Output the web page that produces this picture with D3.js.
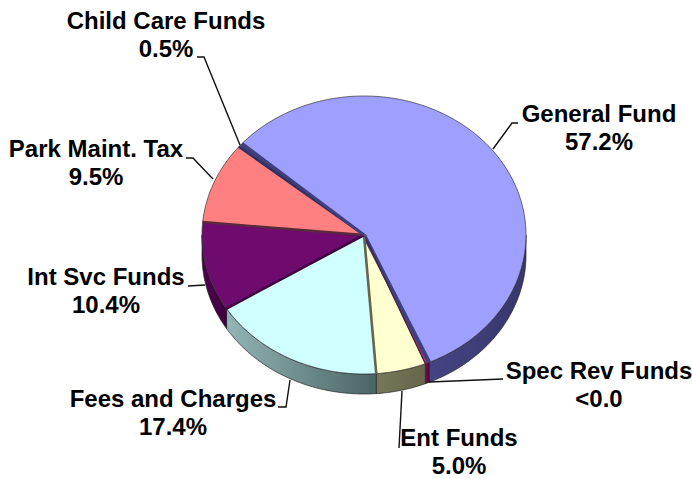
<!DOCTYPE html>
<html>
<head>
<meta charset="utf-8">
<script src="https://cdn.jsdelivr.net/npm/d3@7"></script>
<style>
html,body{margin:0;padding:0;background:#fff}
svg{display:block}
text{font-family:"Liberation Sans",Arial,sans-serif;font-weight:bold;font-size:24px;fill:#000;text-anchor:middle}
</style>
</head>
<body>
<svg id="chart" width="692" height="479"></svg>
<script>
// Revenue sources, clockwise from the upper-left edge of the General Fund slice
const categories = ["General Fund","Spec Rev Funds","Ent Funds","Fees and Charges","Int Svc Funds","Park Maint. Tax","Child Care Funds"];
const shares = [57.2,0.4,5.0,17.4,10.4,9.5,0.5];
const shareLabels = ["57.2%","<0.0","5.0%","17.4%","10.4%","9.5%","0.5%"];
const topColors = ["#9f9fff","#b0306f","#ffffcf","#cfffff","#6f0a6f","#ff8080","#3f3f7f"];
const rimLight = ["#444484","#700a50","#77775a","#93b5b5","#4f004f","#995050","#404080"];
const rimDark = ["#37376c","#5a0040","#66664a","#4a6464","#3f003f","#704040","#303060"];
const edgeColors = ["#3f3f7f","#4a2040","#66664d","#3f003f","#5a2a3a","#303060","#3f3f7f"];
const edgeWidths = [4,1.2,2.6,2.6,2.4,2.4,3];

// Label placement: text centre, first baseline, and the leader's path from the rim
const labelLayout = [
  {x:599,y:122,leader:[[493,149],[512,123],[518,123]]},
  {x:599,y:379,leader:[[429,382],[503,379]]},
  {x:459,y:446,leader:[[402,391],[399,448]]},
  {x:173,y:407,leader:[[290,380],[286,407],[278,407]]},
  {x:106,y:285,leader:[[205,285],[188,286]]},
  {x:96,y:157,leader:[[213,179],[193,158],[186,158]]},
  {x:166,y:29,leader:[[240,145],[204,57],[197,57]]}
];

const cx = 364, cy = 235, rx = 162, ry = 139, depth = 20;
const startAngle = -48.8 * Math.PI / 180;

const svg = d3.select("#chart");
const defs = svg.append("defs");

const pie = d3.pie().sort(null).value(d => d)
  .startAngle(startAngle).endAngle(startAngle + 2 * Math.PI);
const slices = pie(shares);

// Tilted disc: the unit circle is stretched to an ellipse by these scales
const sx = d3.scaleLinear().domain([-1,1]).range([cx-rx,cx+rx]);
const sy = d3.scaleLinear().domain([-1,1]).range([cy-ry,cy+ry]);
const px = a => sx(Math.sin(a));
const py = a => sy(-Math.cos(a));
const ARC_STEP = Math.PI / 180;

function angles(a0, a1) {
  const n = Math.max(2, Math.ceil((a1 - a0) / ARC_STEP));
  return d3.range(n + 1).map(i => a0 + (a1 - a0) * i / n);
}

const line = d3.line();

// Outer wall of each slice, only along the front half of the disc
slices.forEach((s, i) => {
  const front = [];
  const a0 = Math.max(s.startAngle, Math.PI / 2);
  const a1 = Math.min(s.endAngle, 3 * Math.PI / 2);
  if (a1 > a0) front.push([a0, a1]);
  // slices with negative start angles are also tested one full turn on
  const wrapA0 = Math.max(s.startAngle + 2 * Math.PI, Math.PI / 2);
  const wrapA1 = Math.min(s.endAngle + 2 * Math.PI, 3 * Math.PI / 2);
  if (wrapA1 > wrapA0) front.push([wrapA0, wrapA1]);
  front.forEach(([f0, f1], k) => {
    const visible = angles(f0, f1);
    const xs = visible.map(px);
    const id = `rim${i}_${k}`;
    const grad = defs.append("linearGradient").attr("id", id)
      .attr("gradientUnits", "userSpaceOnUse")
      .attr("x1", d3.min(xs)).attr("x2", d3.max(xs)).attr("y1", 0).attr("y2", 0);
    grad.append("stop").attr("offset", 0).attr("stop-color", rimLight[i]);
    grad.append("stop").attr("offset", 1).attr("stop-color", rimDark[i]);
    const top = visible.map(a => [px(a), py(a)]);
    const bottom = visible.slice().reverse().map(a => [px(a), py(a) + depth]);
    svg.append("path").attr("d", line(top.concat(bottom)) + "Z")
      .attr("fill", `url(#${id})`).attr("stroke", "#222").attr("stroke-width", 0.7);
  });
});

// Top faces
slices.forEach((s, i) => {
  const pts = [[cx, cy]].concat(angles(s.startAngle, s.endAngle).map(a => [px(a), py(a)]));
  svg.append("path").attr("d", line(pts) + "Z")
    .attr("fill", topColors[i]).attr("stroke", "#333").attr("stroke-width", 0.7)
    .attr("stroke-linejoin", "round");
});

// Thick shaded cut edges between slices
slices.forEach((s, i) => {
  svg.append("path")
    .attr("d", line([[cx, cy], [px(s.endAngle), py(s.endAngle)]]))
    .attr("stroke", edgeColors[i]).attr("stroke-width", edgeWidths[i]).attr("fill", "none");
});

// Leaders and two-line labels
labelLayout.forEach((l, i) => {
  svg.append("path").attr("d", line(l.leader))
    .attr("fill", "none").attr("stroke", "#111").attr("stroke-width", 1.4);
  svg.append("text").attr("x", l.x).attr("y", l.y).text(categories[i]);
  svg.append("text").attr("x", l.x).attr("y", l.y + 28).text(shareLabels[i]);
});
</script>
</body>
</html>
